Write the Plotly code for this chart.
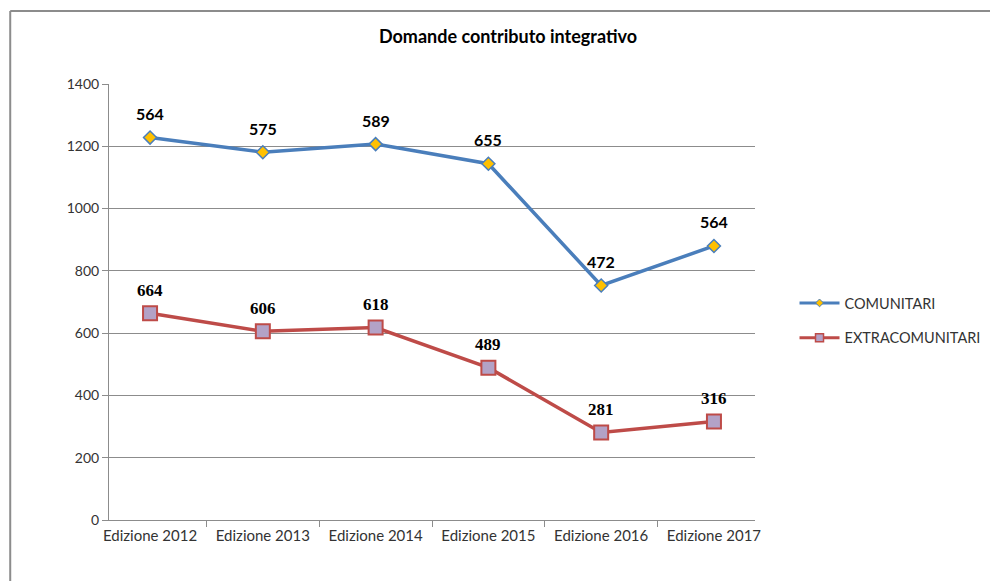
import plotly.graph_objects as go

categories = ["Edizione 2012", "Edizione 2013", "Edizione 2014", "Edizione 2015", "Edizione 2016", "Edizione 2017"]
comunitari = [564, 575, 589, 655, 472, 564]
extracomunitari = [664, 606, 618, 489, 281, 316]
y_ticks = [0, 200, 400, 600, 800, 1000, 1200, 1400]

# stacked line chart: COMUNITARI is stacked on top of EXTRACOMUNITARI
comunitari_stacked = [e + c for e, c in zip(extracomunitari, comunitari)]

BLUE = "#4A7EBB"
RED = "#BE4B48"
GRID = "#8C8C8C"

W, H = 990, 573
L, R, T, B = 101, 235, 76, 61
PW, PH = W - L - R, H - T - B

fig = go.Figure()
fig.add_trace(go.Scatter(
    x=categories, y=comunitari_stacked, name="COMUNITARI", mode="lines+markers",
    showlegend=False,
    line=dict(color=BLUE, width=3.5),
    marker=dict(symbol="diamond", size=10, color="#FFC000", line=dict(color=BLUE, width=1.5)),
))
fig.add_trace(go.Scatter(
    x=categories, y=extracomunitari, name="EXTRACOMUNITARI", mode="lines+markers",
    showlegend=False,
    line=dict(color=RED, width=3.5),
    marker=dict(symbol="square", size=14, color="#B3A2C7", line=dict(color=RED, width=2)),
))
# legend entries (smaller symbols, as in the original legend)
fig.add_trace(go.Scatter(
    x=[None], y=[None], name="COMUNITARI", mode="lines+markers", legendgroup="a",
    line=dict(color=BLUE, width=3),
    marker=dict(symbol="diamond", size=6, color="#FFC000", line=dict(color=BLUE, width=1)),
))
fig.add_trace(go.Scatter(
    x=[None], y=[None], name="EXTRACOMUNITARI", mode="lines+markers", legendgroup="b",
    line=dict(color=RED, width=3),
    marker=dict(symbol="square", size=8, color="#B3A2C7", line=dict(color=RED, width=1.5)),
))

annotations = []
for cat, ys, lab in zip(categories, comunitari_stacked, comunitari):
    annotations.append(dict(x=cat, y=ys, text=str(lab), showarrow=False, yshift=24,
                            font=dict(family="Lato", size=16, color="#000000", weight="bold")))
for cat, ys in zip(categories, extracomunitari):
    annotations.append(dict(x=cat, y=ys, text=str(ys), showarrow=False, yshift=23,
                            font=dict(family="Liberation Serif", size=17, color="#000000", weight="bold")))

fx = lambda px: (px - L) / PW
fy = lambda py: (T + PH - py) / PH

fig.update_layout(
    width=W, height=H,
    margin=dict(l=L, r=R, t=T, b=B),
    paper_bgcolor="white", plot_bgcolor="white",
    font=dict(family="Lato", size=15, color="#333333"),
    title=dict(text="<b>Domande contributo integrativo</b>", x=500 / W, xref="container", xanchor="center",
               y=1 - 29 / H, yref="container", yanchor="middle",
               font=dict(family="Lato", size=18, color="#000000")),
    xaxis=dict(type="category", tickson="boundaries", ticks="outside", ticklen=6, tickcolor=GRID,
               showline=True, linecolor=GRID, linewidth=1, showgrid=False, ticklabelstandoff=2,
               tickfont=dict(size=15, color="#333333")),
    yaxis=dict(range=[0, 1400], tickvals=y_ticks, ticks="outside", ticklen=6, tickcolor=GRID,
               showline=True, linecolor=GRID, linewidth=1, showgrid=True, gridcolor=GRID, gridwidth=1,
               zeroline=False, tickfont=dict(size=14, color="#333333")),
    legend=dict(x=fx(795), y=fy(279), xanchor="left", yanchor="top", traceorder="grouped",
                tracegroupgap=13, itemwidth=40, font=dict(family="Lato", size=14.5, color="#333333"),
                bgcolor="rgba(0,0,0,0)"),
    annotations=annotations,
    shapes=[
        dict(type="line", xref="paper", yref="paper", x0=fx(1), x1=fx(W + 20),
             y0=fy(3), y1=fy(3), line=dict(color="#8C8C8C", width=2)),
        dict(type="line", xref="paper", yref="paper", x0=fx(1), x1=fx(1),
             y0=fy(3), y1=fy(H + 20), line=dict(color="#8C8C8C", width=2)),
    ],
)

fig.write_html("out.html")
